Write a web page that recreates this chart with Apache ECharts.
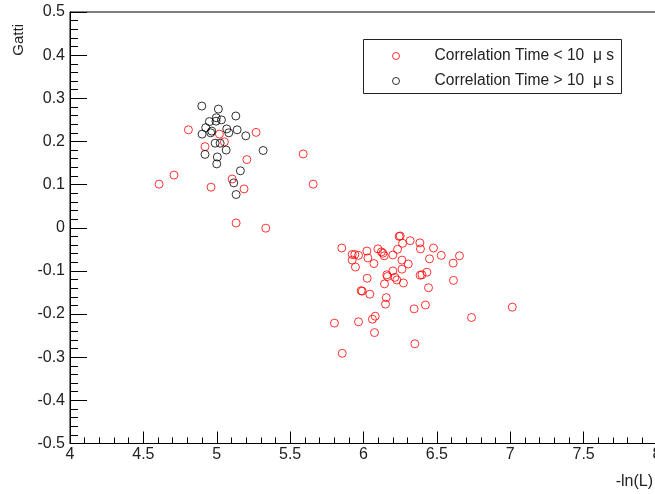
<!DOCTYPE html>
<html>
<head>
<meta charset="utf-8">
<script src="https://cdn.jsdelivr.net/npm/echarts@6/dist/echarts.min.js"></script>
<style>
    html, body { margin: 0; padding: 0; background: #fff; }
    #main { width: 655px; height: 494px; }
</style>
</head>
<body>
<div id="main"></div>
<script>
// correlation time < 10 us (red)
var shortX = [4.807, 5.268, 5.018, 5.052, 4.920, 5.205, 4.709, 4.607, 4.961, 5.105, 5.186, 5.132, 5.334, 5.589, 5.657,
    5.852, 6.243, 6.250, 6.318, 6.266, 6.384, 6.388, 6.477, 6.530, 6.654, 6.611, 6.450, 5.923, 5.941, 5.966,
    5.923, 5.945, 6.023, 6.030, 6.071, 6.098, 6.122, 6.132, 6.141, 6.200, 6.232, 6.262, 6.305, 6.262, 6.200,
    6.159, 6.163, 6.214, 6.227, 6.272, 6.143, 6.025, 6.386, 6.398, 6.432, 6.613, 6.443, 5.984, 5.991, 6.043,
    6.155, 6.150, 6.345, 6.422, 7.014, 6.736, 5.802, 5.966, 6.061, 6.080, 6.075, 6.350, 5.855];
var shortY = [0.227, 0.221, 0.217, 0.199, 0.188, 0.158, 0.122, 0.101, 0.094, 0.113, 0.090, 0.011, -0.001, 0.171, 0.101,
    -0.047, -0.020, -0.019, -0.030, -0.036, -0.035, -0.049, -0.047, -0.064, -0.065, -0.082, -0.072, -0.062, -0.062, -0.064,
    -0.075, -0.091, -0.054, -0.070, -0.083, -0.049, -0.056, -0.059, -0.065, -0.063, -0.050, -0.075, -0.084, -0.096, -0.100,
    -0.109, -0.113, -0.115, -0.121, -0.128, -0.130, -0.117, -0.110, -0.109, -0.103, -0.122, -0.139, -0.146, -0.147, -0.154,
    -0.162, -0.177, -0.188, -0.179, -0.184, -0.208, -0.221, -0.218, -0.212, -0.205, -0.243, -0.269, -0.291];
// correlation time > 10 us (black)
var longX = [4.898, 5.011, 5.130, 4.950, 4.997, 4.995, 5.032, 4.925, 4.900, 4.966, 4.959, 5.068, 5.082, 5.139, 5.198,
    4.989, 5.023, 5.064, 4.920, 5.316, 5.004, 5.000, 5.161, 5.116, 5.132];
var longY = [0.282, 0.275, 0.259, 0.246, 0.255, 0.247, 0.250, 0.232, 0.217, 0.224, 0.220, 0.229, 0.220, 0.227, 0.213,
    0.196, 0.196, 0.180, 0.170, 0.179, 0.164, 0.148, 0.132, 0.104, 0.077];

var names = ['Correlation Time < 10  \u03bc s', 'Correlation Time > 10  \u03bc s'];
var FONT = '"Liberation Sans", Arial, Helvetica, sans-serif';

function pairs(xs, ys) {
    return xs.map(function (x, i) { return [x, ys[i]]; });
}

var chart = echarts.init(document.getElementById('main'));

var option = {
    animation: false,
    backgroundColor: '#fff',
    grid: {
        left: 70, top: 12, width: 587, height: 431.5,
        show: true, borderColor: '#000', borderWidth: 1,
        containLabel: false, outerBoundsMode: 'none'
    },
    xAxis: {
        type: 'value',
        min: 4, max: 8, interval: 0.5,
        axisLine: { show: true, onZero: false, lineStyle: { color: '#000', width: 1 } },
        axisTick: { show: true, inside: true, length: 12, lineStyle: { color: '#000' } },
        minorTick: { show: true, splitNumber: 5, length: 6, lineStyle: { color: '#000' } },
        splitLine: { show: false },
        minorSplitLine: { show: false },
        axisLabel: { color: '#222', fontSize: 16, fontFamily: FONT, margin: 3 }
    },
    yAxis: {
        type: 'value',
        min: -0.5, max: 0.5, interval: 0.1,
        axisLine: { show: true, onZero: false, lineStyle: { color: '#000', width: 1 } },
        axisTick: { show: true, inside: true, length: 17, lineStyle: { color: '#000' } },
        minorTick: { show: true, splitNumber: 5, length: 8, lineStyle: { color: '#000' } },
        splitLine: { show: false },
        minorSplitLine: { show: false },
        axisLabel: { color: '#222', fontSize: 16, fontFamily: FONT, margin: 5 }
    },
    legend: {
        orient: 'vertical',
        left: 392, top: 47,
        padding: 0,
        itemGap: 7,
        itemWidth: 7, itemHeight: 7,
        selectedMode: false,
        textStyle: { color: '#222', fontSize: 15.6, fontFamily: FONT, lineHeight: 18, padding: [0, 0, 0, 30] },
        data: [
            { name: names[0], icon: 'circle', itemStyle: { color: 'transparent', borderColor: '#f00', borderWidth: 1 } },
            { name: names[1], icon: 'circle', itemStyle: { color: 'transparent', borderColor: '#000', borderWidth: 1 } }
        ],
        z: 10
    },
    graphic: [
        { type: 'rect', z: 5, shape: { x: 363.5, y: 39.5, width: 258, height: 54 },
          style: { fill: '#fff', stroke: '#222', lineWidth: 1 } },
        { type: 'text', x: 19, y: 24, rotation: Math.PI / 2, z: 5,
          style: { text: 'Gatti', fill: '#222', font: '15px ' + FONT, textAlign: 'right', textVerticalAlign: 'middle' } },
        { type: 'text', x: 653, y: 482, z: 5,
          style: { text: '-ln(L)', fill: '#222', font: '16px ' + FONT, textAlign: 'right', textVerticalAlign: 'middle' } }
    ],
    series: [
        {
            name: names[0],
            type: 'scatter',
            symbol: 'circle',
            symbolSize: 8,
            itemStyle: { color: 'transparent', borderColor: '#f00', borderWidth: 1 },
            data: pairs(shortX, shortY)
        },
        {
            name: names[1],
            type: 'scatter',
            symbol: 'circle',
            symbolSize: 8,
            itemStyle: { color: 'transparent', borderColor: '#000', borderWidth: 1 },
            data: pairs(longX, longY)
        }
    ]
};
chart.setOption(option);
</script>
</body>
</html>
